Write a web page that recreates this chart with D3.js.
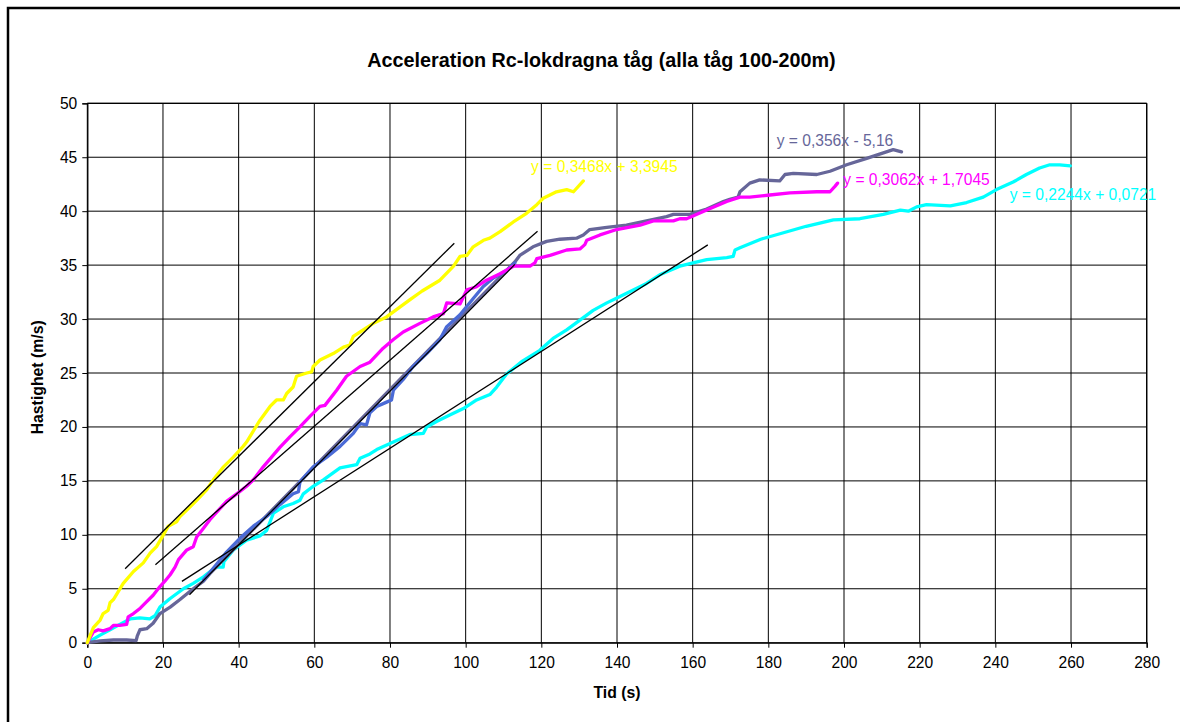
<!DOCTYPE html>
<html>
<head>
<meta charset="utf-8">
<script src="https://cdn.jsdelivr.net/npm/d3@7"></script>
<style>
  html, body { margin: 0; padding: 0; background: #fff; }
  svg { display: block; font-family: Arial, "Liberation Sans", sans-serif; }
</style>
</head>
<body>
<svg id="chart" width="1180" height="722"></svg>
<script>
// ---------- DATA ----------
const title = "Acceleration Rc-lokdragna tåg (alla tåg 100-200m)";
const xTitle = "Tid (s)";
const yTitle = "Hastighet (m/s)";
const xTicks = [0, 20, 40, 60, 80, 100, 120, 140, 160, 180, 200, 220, 240, 260, 280];
const yTicks = [0, 5, 10, 15, 20, 25, 30, 35, 40, 45, 50];

const yellowX = [0, 1.6, 3.4, 4.2, 5.5, 6.0, 6.9, 9.5, 12.2, 14.8, 16.6, 18.3, 20.1, 21.4, 23.6, 24.5, 26.3, 28.9, 31.6, 33.3, 36.0, 38.6, 41.2, 42.1, 45.6, 48.3, 50.0, 51.8, 52.7, 54.4, 55.3, 58.0, 59.3, 59.7, 61.5, 65.0, 67.7, 69.4, 70.3, 72.1, 75.6, 79.1, 82.6, 85.3, 88.5, 93.2, 96.8, 98.5, 100.3, 102.0, 104.7, 106.4, 109.1, 112.6, 116.1, 118.8, 120.5, 124.0, 126.7, 128.5, 131.1];
const yellowY = [0, 1.4, 2.1, 2.7, 3.0, 3.7, 4.0, 5.5, 6.6, 7.4, 8.3, 8.9, 10.0, 10.8, 11.2, 11.7, 12.3, 13.2, 14.2, 15.1, 16.3, 17.2, 18.2, 18.6, 20.6, 21.9, 22.5, 22.5, 23.1, 23.7, 24.7, 25.0, 25.1, 25.6, 26.2, 26.8, 27.4, 27.6, 28.4, 28.8, 29.6, 30.2, 31.1, 31.8, 32.6, 33.6, 34.9, 35.8, 35.9, 36.7, 37.3, 37.5, 38.1, 39.0, 39.8, 40.6, 41.2, 41.8, 42.0, 41.8, 42.8];

const magentaX = [0, 1.6, 2.9, 4.2, 6.0, 6.9, 8.6, 10.4, 10.8, 12.2, 14.0, 15.7, 17.4, 19.2, 20.5, 21.9, 23.2, 24.1, 26.3, 28.0, 28.9, 30.7, 32.4, 34.2, 36.8, 39.5, 42.1, 43.9, 46.5, 50.9, 53.6, 56.2, 58.9, 61.5, 62.8, 65.9, 68.5, 72.1, 74.7, 78.2, 80.9, 83.5, 87.9, 91.4, 94.1, 95.0, 98.5, 100.3, 102.9, 105.5, 109.1, 112.6, 117.0, 118.3, 118.8, 122.3, 126.7, 130.2, 131.5, 132.0, 135.5, 139.9, 146.1, 149.6, 154.9, 156.6, 158.4, 163.7, 169.0, 172.5, 175.1, 180.4, 185.7, 192.8, 196.3, 197.6, 198.3];
const magentaY = [0, 1.0, 1.2, 1.1, 1.3, 1.6, 1.6, 1.7, 2.4, 2.7, 3.2, 3.8, 4.4, 5.2, 5.7, 6.3, 7.0, 7.7, 8.6, 8.9, 9.8, 10.6, 11.4, 12.1, 13.1, 13.8, 14.5, 15.1, 16.3, 18.1, 19.1, 20.0, 21.0, 21.9, 22.0, 23.4, 24.7, 25.6, 26.0, 27.3, 28.1, 28.8, 29.6, 30.2, 30.5, 31.5, 31.4, 32.7, 33.0, 33.6, 34.2, 34.9, 34.9, 35.2, 35.6, 35.9, 36.4, 36.5, 36.9, 37.3, 37.8, 38.3, 38.7, 39.1, 39.1, 39.3, 39.3, 40.1, 40.9, 41.3, 41.3, 41.5, 41.7, 41.8, 41.8, 42.3, 42.6];

const slateX = [0, 3.4, 6.9, 10.4, 12.9, 13.2, 13.9, 15.7, 17.4, 19.2, 21.9, 24.5, 28.0, 30.7, 32.4, 113.0, 114.3, 117.8, 121.4, 124.9, 129.3, 131.1, 132.8, 137.3, 142.5, 147.8, 153.1, 154.9, 159.3, 163.7, 168.1, 169.8, 172.0, 172.5, 175.1, 177.7, 183.0, 184.4, 186.6, 192.8, 196.3, 200.7, 206.0, 210.4, 213.0, 215.2];
const slateY = [0, 0.16, 0.25, 0.25, 0.19, 0.6, 1.2, 1.3, 1.8, 2.7, 3.3, 4.0, 5.0, 5.7, 6.4, 35.3, 35.9, 36.7, 37.2, 37.4, 37.5, 37.8, 38.3, 38.5, 38.7, 39.1, 39.5, 39.7, 39.7, 40.2, 40.9, 41.1, 41.3, 41.8, 42.6, 42.9, 42.8, 43.4, 43.5, 43.4, 43.7, 44.3, 44.9, 45.4, 45.7, 45.5];

const blueX = [30.7, 33.3, 36.8, 40.4, 43.9, 47.4, 50.9, 54.4, 55.8, 56.2, 59.7, 63.3, 66.8, 70.3, 72.1, 73.8, 74.7, 76.5, 79.1, 80.4, 80.9, 83.5, 86.1, 89.7, 93.2, 95.0, 98.5, 102.0, 104.6, 107.3, 110.8, 113.0];
const blueY = [5.8, 6.9, 8.4, 9.7, 10.8, 11.7, 12.8, 13.8, 14.0, 14.9, 16.3, 17.2, 18.2, 19.4, 20.3, 20.2, 21.3, 21.9, 22.3, 22.5, 23.4, 24.4, 25.6, 26.8, 28.1, 29.3, 30.4, 31.9, 33.0, 33.8, 34.5, 35.2];

const cyanX = [0, 3.4, 6.0, 8.6, 11.3, 13.9, 16.5, 17.9, 19.2, 21.9, 25.4, 28.0, 30.7, 32.9, 34.2, 35.9, 36.1, 38.6, 42.1, 45.6, 47.4, 49.2, 51.8, 54.4, 56.2, 57.1, 59.7, 62.4, 66.8, 71.2, 72.1, 74.7, 76.5, 80.9, 85.3, 88.8, 89.7, 92.3, 95.8, 99.4, 102.9, 106.4, 108.2, 110.8, 115.0, 119.6, 123.1, 126.7, 130.2, 133.7, 137.3, 140.8, 144.3, 147.8, 151.3, 156.6, 160.1, 163.7, 169.0, 170.7, 171.2, 172.5, 178.0, 184.0, 190.0, 197.2, 204.2, 210.4, 214.9, 217.0, 219.2, 221.8, 228.1, 232.4, 236.8, 240.3, 244.7, 248.2, 251.7, 254.4, 257.0, 259.8];
const cyanY = [0, 0.7, 1.2, 1.7, 2.2, 2.3, 2.2, 2.5, 3.3, 4.1, 5.0, 5.5, 6.1, 6.7, 7.0, 7.0, 7.5, 8.6, 9.5, 9.9, 10.4, 12.0, 12.6, 12.9, 13.2, 13.8, 14.5, 15.1, 16.2, 16.5, 17.1, 17.5, 17.9, 18.6, 19.3, 19.4, 20.0, 20.5, 21.1, 21.7, 22.5, 23.0, 23.7, 24.9, 26.1, 27.1, 28.2, 29.0, 29.9, 30.8, 31.5, 32.1, 32.7, 33.3, 34.1, 34.9, 35.2, 35.5, 35.7, 35.8, 36.4, 36.6, 37.4, 38.0, 38.6, 39.2, 39.3, 39.7, 40.1, 40.0, 40.4, 40.6, 40.5, 40.8, 41.3, 42.0, 42.7, 43.4, 44.0, 44.3, 44.3, 44.2];

// Linear trendlines: slope, intercept, x-range, label
const trendSlopes = [0.3468, 0.3062, 0.356, 0.2244];
const trendIntercepts = [3.3945, 1.7045, -5.16, 0.0721];
const trendStart = [10, 18, 27, 25];
const trendEnd = [97, 119, 113, 164];
const trendLabels = ["y = 0,3468x + 3,3945", "y = 0,3062x + 1,7045", "y = 0,356x - 5,16", "y = 0,2244x + 0,0721"];
// label anchor in data units (x of text start, y of baseline)
const labelX = [117.3, 199.8, 182.2, 243.8];
const labelY = [43.6, 42.4, 46.0, 41.0];

// ---------- STYLE / LAYOUT ----------
const colors = { yellow: "#FFFF00", magenta: "#FF00FF", slate: "#666699", blue: "#4A6AD6", cyan: "#00FFFF" };
const labelColors = [colors.yellow, colors.magenta, colors.slate, colors.cyan];
const plot = { left: 87.3, right: 1146.7, top: 103.3, bottom: 642.7 };

const svg = d3.select("#chart");
const x = d3.scaleLinear().domain([0, 280]).range([plot.left, plot.right]);
const y = d3.scaleLinear().domain([0, 50]).range([plot.bottom, plot.top]);

// outer frame (extends beyond the window on the right/bottom)
svg.append("rect").attr("x", 8).attr("y", 8).attr("width", 1220).attr("height", 760)
  .attr("fill", "none").attr("stroke", "#000").attr("stroke-width", 2.5);

// gridlines
svg.append("g").selectAll("line").data(yTicks).join("line")
  .attr("x1", plot.left).attr("x2", plot.right)
  .attr("y1", d => y(d)).attr("y2", d => y(d))
  .attr("stroke", "#000").attr("stroke-width", 1);
svg.append("g").selectAll("line").data(xTicks).join("line")
  .attr("x1", d => x(d)).attr("x2", d => x(d))
  .attr("y1", plot.top).attr("y2", plot.bottom)
  .attr("stroke", "#000").attr("stroke-width", 1);

// axes
const fontSize = "15.6px";
const yAxis = svg.append("g").attr("transform", `translate(${plot.left},0)`)
  .call(d3.axisLeft(y).tickValues(yTicks).tickSize(5).tickPadding(5).tickFormat(d3.format("d")));
const xAxis = svg.append("g").attr("transform", `translate(0,${plot.bottom})`)
  .call(d3.axisBottom(x).tickValues(xTicks).tickSize(5).tickPadding(9).tickFormat(d3.format("d")));
[yAxis, xAxis].forEach(a => {
  a.select(".domain").attr("stroke", "#000").attr("stroke-width", 1.3);
  a.selectAll(".tick line").attr("stroke", "#000");
  a.selectAll("text").attr("fill", "#000").style("font-size", fontSize)
    .style("font-family", "Arial, 'Liberation Sans', sans-serif");
});
// right and top border of plot
svg.append("line").attr("x1", plot.right).attr("x2", plot.right).attr("y1", plot.top).attr("y2", plot.bottom)
  .attr("stroke", "#000").attr("stroke-width", 1.3);
svg.append("line").attr("x1", plot.left).attr("x2", plot.right).attr("y1", plot.top).attr("y2", plot.top)
  .attr("stroke", "#000").attr("stroke-width", 1.3);

// series
const line = d3.line().x(d => x(d[0])).y(d => y(d[1]));
const zip = (xs, ys) => xs.map((v, i) => [v, ys[i]]);
const series = [
  { xs: cyanX, ys: cyanY, c: colors.cyan },
  { xs: slateX, ys: slateY, c: colors.slate },
  { xs: blueX, ys: blueY, c: colors.blue },
  { xs: magentaX, ys: magentaY, c: colors.magenta },
  { xs: yellowX, ys: yellowY, c: colors.yellow },
];
series.forEach(s => {
  svg.append("path").datum(zip(s.xs, s.ys)).attr("d", line)
    .attr("fill", "none").attr("stroke", s.c).attr("stroke-width", 3.3)
    .attr("stroke-linejoin", "round").attr("stroke-linecap", "round");
});

// trendlines
trendSlopes.forEach((m, i) => {
  const pts = [trendStart[i], trendEnd[i]].map(t => [t, m * t + trendIntercepts[i]]);
  svg.append("path").datum(pts).attr("d", line)
    .attr("fill", "none").attr("stroke", "#000").attr("stroke-width", 1.3);
});

// equation labels
trendLabels.forEach((t, i) => {
  svg.append("text").attr("x", x(labelX[i])).attr("y", y(labelY[i]))
    .attr("fill", labelColors[i]).style("font-size", fontSize).text(t);
});

// titles
svg.append("text").attr("x", 601.5).attr("y", 67).attr("text-anchor", "middle")
  .style("font-size", "19.8px").style("font-weight", "bold").text(title);
svg.append("text").attr("x", x(140)).attr("y", 698).attr("text-anchor", "middle")
  .style("font-size", "15.8px").style("font-weight", "bold").text(xTitle);
svg.append("text").attr("transform", `translate(43,${y(24.6)}) rotate(-90)`).attr("text-anchor", "middle")
  .style("font-size", "15.8px").style("font-weight", "bold").text(yTitle);
</script>
</body>
</html>
